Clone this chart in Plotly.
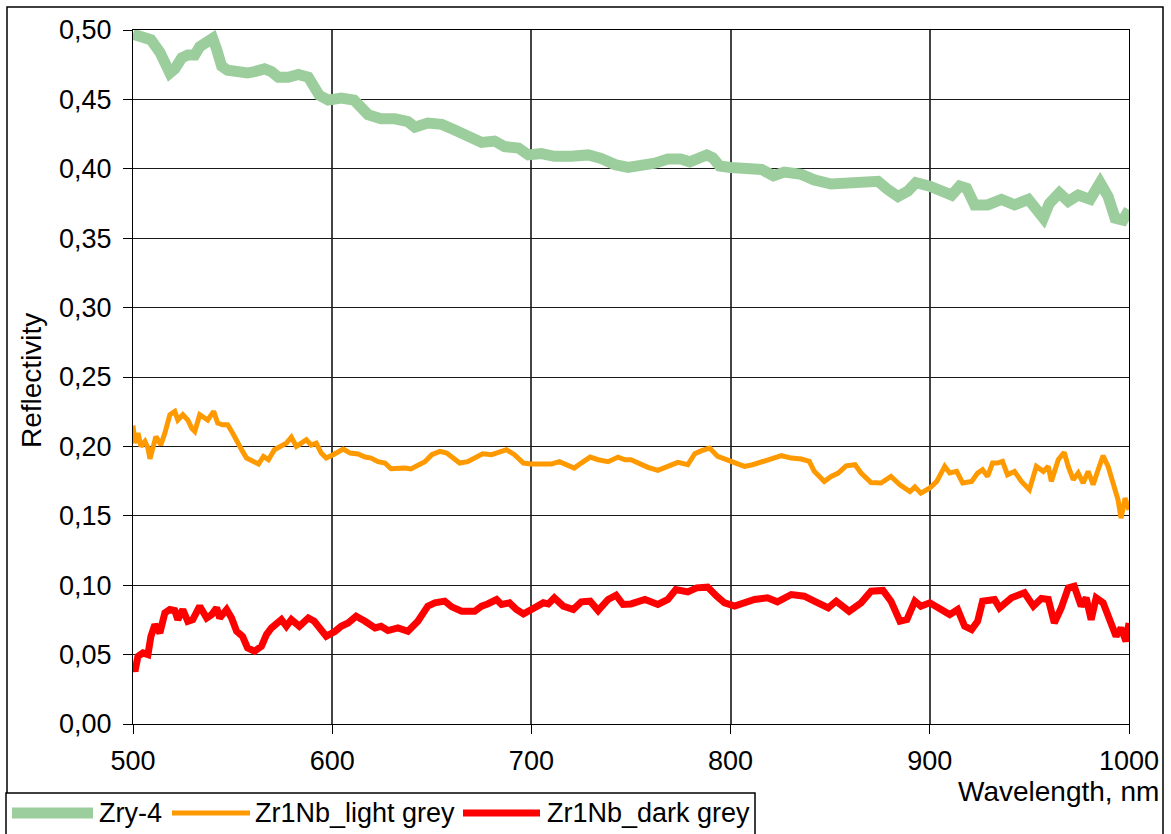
import plotly.graph_objects as go

# ---------------- data ----------------
wl_zry4 = [500, 502.5, 509, 513.5, 516, 518.5, 521, 524.5, 527.5, 531, 533.5, 537, 540, 542, 544.5,
           547.5, 552.5, 557.5, 561, 566, 569.5, 573, 578, 583, 588, 590.5, 593.5, 598, 604.5, 611,
           614.5, 618, 624.5, 631.5, 638, 641.5, 648, 655, 661.5, 668, 675, 681.5, 686.5, 693.5, 698.5,
           705, 711.5, 720, 728.5, 735, 742, 748.5, 755, 762, 768.5, 775, 779.5, 783.5, 788, 791,
           794.5, 800, 807, 815.5, 821.5, 827, 835.5, 842, 850.5, 859, 867.5, 874, 879, 884, 889,
           893, 900, 906, 911, 915, 918.5, 922.5, 929, 936, 942.5, 949.5, 953.5, 957, 960, 965,
           969.5, 974.5, 980.5, 985.5, 989.5, 993, 997, 1000]
refl_zry4 = [0.497, 0.496, 0.493, 0.484, 0.476, 0.469, 0.472, 0.480, 0.482, 0.482, 0.488, 0.492, 0.494, 0.486, 0.474,
             0.471, 0.469, 0.469, 0.470, 0.472, 0.470, 0.466, 0.466, 0.468, 0.466, 0.460, 0.453, 0.4495, 0.451, 0.4495,
             0.445, 0.439, 0.436, 0.436, 0.434, 0.430, 0.433, 0.432, 0.428, 0.423, 0.419, 0.420, 0.416, 0.415, 0.410,
             0.411, 0.409, 0.409, 0.410, 0.4075, 0.403, 0.401, 0.402, 0.404, 0.407, 0.407, 0.405, 0.407, 0.410, 0.408,
             0.402, 0.401, 0.401, 0.3995, 0.395, 0.3976, 0.396, 0.392, 0.389, 0.390, 0.390, 0.391, 0.385, 0.380, 0.384,
             0.390, 0.3875, 0.385, 0.381, 0.3875, 0.386, 0.374, 0.374, 0.378, 0.374, 0.378, 0.3705, 0.3645, 0.375, 0.3826,
             0.3766, 0.381, 0.378, 0.390, 0.380, 0.3645, 0.363, 0.3705]

wl_light = [500, 501, 502.5, 504, 506, 507.5, 508.5, 510, 511.5, 513.5, 514, 516, 518.5, 521, 522.5,
            525, 527.5, 529.5, 531, 533.5, 536, 537.5, 540.5, 542.5, 545, 547.5, 550, 552.5, 555, 557,
            560.5, 563, 565.5, 568, 571, 574.5, 577, 579.5, 582, 584.5, 587, 589.5, 592, 594.5, 597,
            600.5, 603, 605.5, 609, 613, 616.5, 619.5, 623, 626.5, 629.5, 633, 636.5, 639.5, 643, 646.5,
            650, 654, 657.5, 660.5, 664, 668, 672.5, 675.5, 680, 683.5, 687.5, 691.5, 696, 700, 705,
            710, 714, 718.5, 721.5, 725, 729.5, 733.5, 738.5, 743.5, 747, 750, 753.5, 758.5, 763.5, 768.5,
            773.5, 778.5, 782, 785.5, 789.5, 793.5, 797, 800, 803.5, 807, 811, 815.5, 818.5, 825.5, 830.5,
            835.5, 839.5, 842, 847, 850.5, 854, 858, 862.5, 865.5, 870.5, 875.5, 880.5, 885, 890, 892.5,
            895.5, 900, 903.5, 907.5, 910, 913.5, 916.5, 921, 924, 926.5, 929, 931.5, 934, 936.5, 939,
            942.5, 946, 950, 953.5, 957, 959.5, 961, 964.5, 967.5, 969.5, 972, 974.5, 977, 979.5, 982,
            984.5, 987, 989.5, 992, 994.5, 996, 998, 1000]
refl_light = [0.215, 0.2024, 0.2096, 0.200, 0.2036, 0.1988, 0.191, 0.201, 0.207, 0.2024, 0.201, 0.2096, 0.2228, 0.2252, 0.219,
              0.2228, 0.219, 0.213, 0.2108, 0.2228, 0.220, 0.219, 0.2252, 0.2168, 0.2156, 0.2156, 0.2096, 0.2024, 0.1964, 0.1916,
              0.189, 0.1873, 0.1928, 0.1904, 0.1976, 0.201, 0.2024, 0.2067, 0.200, 0.2024, 0.2048, 0.201, 0.2024, 0.1952, 0.1916,
              0.194, 0.1964, 0.198, 0.1952, 0.1945, 0.1923, 0.1916, 0.189, 0.188, 0.1839, 0.1844, 0.1844, 0.1837, 0.1868, 0.189,
              0.194, 0.1964, 0.1952, 0.1916, 0.188, 0.189, 0.1923, 0.1947, 0.194, 0.1957, 0.1976, 0.194, 0.188, 0.1873, 0.1875,
              0.1873, 0.189, 0.1868, 0.1844, 0.188, 0.1923, 0.1904, 0.189, 0.1923, 0.1904, 0.1904, 0.188, 0.1849, 0.1827, 0.186,
              0.1885, 0.1868, 0.1947, 0.1969, 0.1988, 0.1928, 0.1909, 0.1892, 0.188, 0.1856, 0.1868, 0.1887, 0.1904, 0.1933, 0.1916,
              0.1909, 0.1892, 0.182, 0.1748, 0.1784, 0.1808, 0.186, 0.1868, 0.1808, 0.174, 0.1736, 0.1784, 0.1724, 0.1675, 0.1707,
              0.1663, 0.170, 0.1748, 0.1856, 0.1808, 0.182, 0.1736, 0.1748, 0.1808, 0.1832, 0.1784, 0.188, 0.188, 0.1892, 0.1796,
              0.182, 0.1748, 0.1688, 0.1856, 0.182, 0.1856, 0.1748, 0.1904, 0.1957, 0.1856, 0.176, 0.1808, 0.1736, 0.182, 0.1724,
              0.1832, 0.1933, 0.1856, 0.1736, 0.1615, 0.1483, 0.1627, 0.1543]

wl_dark = [500, 501, 502.5, 505, 507.5, 509, 511, 513.5, 516, 518.5, 521, 522.5, 525, 527.5, 530,
           533.5, 537, 539.5, 542, 543.5, 547, 549.5, 552, 555, 557.5, 561, 564.5, 567, 569.5, 574.5,
           577, 579.5, 583.5, 588, 591, 594.5, 597, 601.5, 604.5, 608, 612, 616.5, 621.5, 624.5, 628,
           633, 638, 643, 648, 651.5, 656.5, 660, 665, 671.5, 675, 678, 682.5, 685, 689, 692.5,
           696, 700, 706, 708.5, 711.5, 716, 721, 725, 729.5, 733.5, 738.5, 742.5, 746, 750, 757,
           763.5, 768.5, 772.5, 778.5, 783, 788.5, 793, 797, 802, 807, 812, 818.5, 823.5, 830.5, 837,
           842, 849, 853, 859.5, 865.5, 870.5, 876.5, 880.5, 885, 888.5, 892.5, 895.5, 900, 905, 910,
           914, 917.5, 921, 924, 926.5, 932.5, 935, 941, 947.5, 952, 956, 959.5, 962.5, 966, 969.5,
           972.5, 976, 978.5, 981, 983.5, 987, 990.5, 993.5, 996, 998.5, 1000]
refl_dark = [0.0428, 0.038, 0.0488, 0.0512, 0.050, 0.0632, 0.0716, 0.0656, 0.080, 0.0825, 0.0817, 0.0752, 0.0825, 0.074, 0.0752,
             0.0849, 0.0764, 0.0788, 0.0837, 0.0764, 0.0825, 0.0764, 0.0668, 0.0632, 0.0548, 0.0524, 0.056, 0.0644, 0.0692, 0.0752,
             0.0704, 0.0752, 0.0704, 0.0764, 0.074, 0.0668, 0.0632, 0.0668, 0.0704, 0.0728, 0.0776, 0.074, 0.0692, 0.0704, 0.0673,
             0.0692, 0.0668, 0.074, 0.0849, 0.0873, 0.0885, 0.0844, 0.0812, 0.0812, 0.0849, 0.0865, 0.0897, 0.0861, 0.0873, 0.0825,
             0.0793, 0.0825, 0.0873, 0.0865, 0.0909, 0.0849, 0.0825, 0.088, 0.0885, 0.0817, 0.0897, 0.0928, 0.0861, 0.0865, 0.0897,
             0.0861, 0.0897, 0.0969, 0.0952, 0.0981, 0.0986, 0.0921, 0.0873, 0.0849, 0.0873, 0.0897, 0.0909, 0.088, 0.0933, 0.0921,
             0.0885, 0.0837, 0.0885, 0.0812, 0.0873, 0.0957, 0.0962, 0.0885, 0.074, 0.0752, 0.0885, 0.0849, 0.0873, 0.0837, 0.0788,
             0.0825, 0.0704, 0.068, 0.074, 0.0885, 0.0897, 0.0837, 0.0909, 0.0945, 0.0849, 0.0904, 0.0897, 0.0728, 0.0837, 0.0981,
             0.0993, 0.0849, 0.0909, 0.0752, 0.0909, 0.0873, 0.074, 0.0632, 0.0692, 0.0596, 0.0728]

assert len(wl_zry4) == len(refl_zry4), (len(wl_zry4), len(refl_zry4))
assert len(wl_light) == len(refl_light), (len(wl_light), len(refl_light))
assert len(wl_dark) == len(refl_dark), (len(wl_dark), len(refl_dark))

series_names = ["Zry-4", "Zr1Nb_light grey", "Zr1Nb_dark grey"]
series_colors = ["#9ccd9c", "#ff9900", "#ff0000"]
series_widths = [11, 5, 7]

x_ticks = [500, 600, 700, 800, 900, 1000]
y_ticks = [0.00, 0.05, 0.10, 0.15, 0.20, 0.25, 0.30, 0.35, 0.40, 0.45, 0.50]

FONT = "Liberation Sans, Arial, sans-serif"

fig = go.Figure()
for xs, ys, nm, col, w in zip([wl_zry4, wl_light, wl_dark], [refl_zry4, refl_light, refl_dark],
                              series_names, series_colors, series_widths):
    fig.add_trace(go.Scatter(x=xs, y=ys, mode="lines", name=nm, showlegend=False,
                             line=dict(color=col, width=w)))

W, H = 1171, 834
L, R, T, B = 133, 1129, 30, 724


def px_x(p):
    return (p - L) / (R - L)


def px_y(p):
    return (B - p) / (B - T)


# legend drawn as a boxed row below the plot (line sample + label per series)
leg_sample_x = [(12, 93), (172, 250), (463, 540)]
leg_text_x = [97, 253, 545]
leg_y = 813

shapes = [
    # outer chart border
    dict(type="rect", xref="paper", yref="paper", x0=px_x(7), x1=px_x(1163),
         y0=px_y(900), y1=px_y(7), line=dict(color="black", width=1.5),
         fillcolor="rgba(0,0,0,0)", layer="below"),
    # legend box
    dict(type="rect", xref="paper", yref="paper", x0=px_x(6), x1=px_x(755),
         y0=px_y(860), y1=px_y(793), line=dict(color="black", width=1.5),
         fillcolor="white", layer="above"),
]
annotations = [
    dict(text="Reflectivity", xref="paper", yref="paper", x=px_x(31), y=px_y(381),
         xanchor="center", yanchor="middle", textangle=-90, showarrow=False,
         font=dict(family=FONT, size=28, color="black")),
    dict(text="Wavelength, nm", xref="paper", yref="paper", x=px_x(1161), y=px_y(791),
         xanchor="right", yanchor="middle", showarrow=False,
         font=dict(family=FONT, size=28, color="black")),
]
for (sx0, sx1), tx, nm, col, w in zip(leg_sample_x, leg_text_x, series_names, series_colors, series_widths):
    shapes.append(dict(type="line", xref="paper", yref="paper", x0=px_x(sx0), x1=px_x(sx1),
                       y0=px_y(leg_y), y1=px_y(leg_y), line=dict(color=col, width=w), layer="above"))
    annotations.append(dict(text=nm, xref="paper", yref="paper", x=px_x(tx), y=px_y(leg_y),
                            xanchor="left", yanchor="middle", showarrow=False,
                            font=dict(family=FONT, size=27, color="black")))

fig.update_layout(
    width=W, height=H,
    margin=dict(l=L, r=W - R, t=T, b=H - B, pad=0),
    paper_bgcolor="white", plot_bgcolor="white",
    separators=", ",
    font=dict(family=FONT, size=27, color="black"),
    showlegend=False,
    xaxis=dict(range=[500, 1000], tickvals=x_ticks, ticktext=[str(v) for v in x_ticks],
               showgrid=True, gridcolor="#444444", gridwidth=1.5,
               showline=True, linecolor="black", linewidth=1, mirror=True,
               ticks="outside", ticklen=9, tickcolor="black", ticklabelstandoff=4,
               tickfont=dict(family=FONT, size=27, color="black"),
               zeroline=False),
    yaxis=dict(range=[0, 0.5], tickvals=y_ticks, tickformat=".2f",
               showgrid=True, gridcolor="#1a1a1a", gridwidth=1,
               showline=True, linecolor="black", linewidth=1, mirror=True,
               ticks="outside", ticklen=9, tickcolor="black", ticklabelstandoff=6,
               tickfont=dict(family=FONT, size=27, color="black"),
               zeroline=False),
    annotations=annotations,
    shapes=shapes,
)

fig.write_html("out.html")
